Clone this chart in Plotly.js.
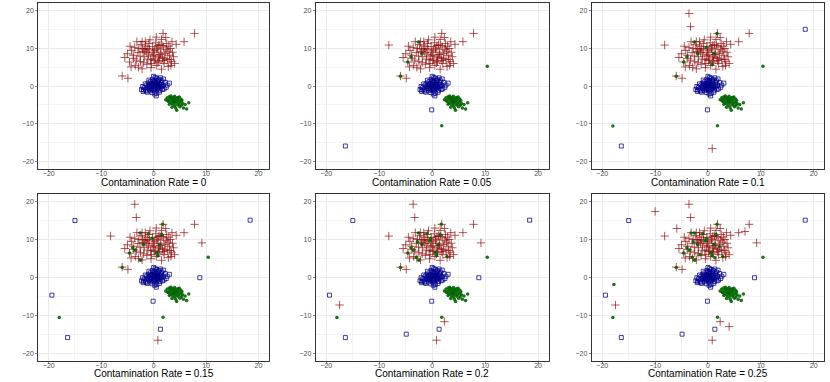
<!DOCTYPE html>
<html>
<head>
<meta charset="utf-8">
<script src="https://cdn.plot.ly/plotly-3.0.1.min.js"></script>
<style>
  html, body { margin: 0; padding: 0; background: #fff; }
  #chart { width: 830px; height: 382px; }
</style>
</head>
<body>
<div id="chart"></div>
<script>
// base clusters, shared by every panel
const redX = [-4.5, -3.2, -2.2, -1.6, 0.5, 1.8, 2.3, 4.3, 5.8, 7.8, -6.0, -4.9,
  -5.0, -4.2, -3.8, -3.5, -4.3, -3.0, -2.8, -2.5, -2.2, -2.0, -1.8, -1.5, -1.3, -1.0, -0.8, -0.6, -0.4, -0.2,
  0.0, 0.2, 0.3, 0.5, 0.7, 0.9, 1.0, 1.2, 1.4, 1.5, 1.7, 1.9, 2.0, 2.2, 2.4, 2.6, 2.8, 3.0, 3.2, 3.4, 3.6, 3.8,
  -5.5, -3.3, -2.6, -1.9, -1.2, -0.9, -0.1, 0.4, 0.8, 1.3, 1.6, 2.1, 2.7, 3.3, -2.4, -3.9, -4.6, -1.4, -0.3,
  0.6, 1.1, 2.5, -2.9, -1.7, -0.5, 0.1, 1.8, 3.1, -3.6, 2.9, -1.1, 0.9, -2.1, 4.0, 3.5, -0.7, 1.5];
const redY = [10.6, 11.8, 11.8, 11.8, 13.0, 14.0, 12.9, 11.1, 11.8, 14.0, 2.7, 2.1,
  8.6, 9.5, 7.4, 5.5, 5.1, 8.9, 10.0, 6.5, 4.6, 9.2, 7.8, 10.6, 5.8, 8.5, 9.8, 7.0, 6.0, 10.5,
  8.3, 9.4, 7.2, 5.5, 10.1, 8.0, 6.6, 11.0, 9.0, 4.5, 7.5, 10.4, 6.0, 8.7, 9.8, 7.0, 5.2, 8.2, 10.0, 6.5, 9.0, 7.8,
  7.6, 6.9, 8.0, 6.2, 10.0, 11.3, 9.0, 11.5, 6.2, 8.4, 10.8, 7.3, 9.3, 5.5, 11.0, 8.2, 6.4, 8.9, 8.0,
  9.8, 7.7, 11.3, 5.0, 9.6, 4.9, 6.8, 6.8, 7.1, 10.3, 10.6, 7.2, 10.8, 9.9, 6.0, 11.8, 12.3, 12.4];

const blueX = [-2.3, -2.0, -1.8, -1.5, -1.3, -1.2, -1.0, -0.9, -0.8, -0.7, -0.6, -0.5, -0.4, -0.3, -0.2, -0.1,
  0.0, 0.0, 0.1, 0.2, 0.2, 0.3, 0.4, 0.5, 0.5, 0.6, 0.7, 0.8, 0.9, 1.0, 1.0, 1.1, 1.2, 1.3, 1.4, 1.5, 1.6, 1.8,
  2.0, 2.2, 2.6, 3.0, -1.6, -0.9, -0.3, 0.3, 0.7, 1.1, -2.1, -1.1, 0.4, 0.9, 1.7, -0.6, 0.1, 0.6, -0.2, 1.3,
  0.8, -0.4, 0.0, 0.3, 1.9, -1.4, 0.2, 0.6, -0.7, 1.5, 2.4, -1.9];
const blueY = [-0.9, -1.4, -0.4, -1.0, 0.3, -1.6, 0.8, -0.6, 0.1, -1.2, 1.2, -0.3, 0.5, -0.9, 1.8, 0.0,
  -0.5, 2.6, 0.9, -1.3, 0.3, 1.5, -0.2, 0.6, -2.6, 2.1, -0.8, 1.1, 0.0, -0.4, 1.8, 0.4, -1.1, 2.2, 0.9, -0.2, 1.4, 0.2,
  -0.7, 1.0, 0.3, 0.8, 0.6, 1.6, -1.7, -0.6, 0.2, -1.6, -0.1, -0.2, 1.0, 1.5, -0.9, -0.1, -0.9, 0.4, 0.7, 0.0,
  -0.3, -0.6, 1.3, 2.3, 1.9, -1.3, -2.1, -1.9, 0.4, 0.5, -0.3, -1.0];

const greenX = [2.3, 2.6, 2.8, 3.0, 3.1, 3.2, 3.3, 3.4, 3.5, 3.6, 3.7, 3.8, 3.9, 4.0, 4.0, 4.1, 4.2, 4.3, 4.4, 4.5,
  4.6, 4.7, 4.8, 4.9, 5.0, 5.1, 5.2, 5.3, 5.5, 5.7, 6.0, 6.3, 6.7, 3.5, 4.2, 3.0, 2.7, 4.6, 5.4, 3.9];
const greenY = [-3.6, -3.1, -4.0, -2.8, -3.5, -4.4, -2.6, -3.2, -3.9, -4.8, -3.0, -4.1, -3.5, -5.2, -2.7, -3.8, -4.5, -3.2, -6.4, -4.0,
  -5.0, -3.6, -4.6, -2.9, -5.5, -4.2, -3.4, -5.1, -4.6, -5.8, -4.9, -6.1, -4.4, -5.6, -5.8, -4.8, -3.9, -3.0, -3.8, -4.3];

// contaminated points added at each rate (cumulative)
const rates = ["0", "0.05", "0.1", "0.15", "0.2", "0.25"];
const extraRedX = [[], [-8.2], [-3.6, -3.3, 0.8], [9.2], [-17.5, 2.3], [-10.0, -5.9, 7.0, 4.0]];
const extraRedY = [[], [10.9], [19.3, 15.8, -16.6], [9.1], [-7.3, -11.7], [17.4, 12.9, 12.1, -13.0]];
const extraBlueX = [[], [-16.4, -0.1], [18.4], [-15.0, -19.4, 8.8, 1.3], [-4.9], []];
const extraBlueY = [[], [-15.9, -6.3], [15.1], [15.0, -4.7, -0.1, -13.7], [-15.0], []];
const extraGreenX = [[], [-6.0, -4.6, -2.6, -2.0, -4.0, 10.4, 1.8], [-18.0, 1.7, -0.3, 1.1, 0.8],
  [-1.0, -2.5, 1.5, 0.6, -3.5], [-0.5, 2.8, -3.0, -2.8], [-17.8, -3.2, 2.2, 1.3, -1.5]];
const extraGreenY = [[], [2.6, 6.4, 11.7, 8.7, 7.8, 5.3, -10.5], [-10.6, 14.0, 10.3, 8.7, 5.8],
  [11.5, 4.5, 11.3, 6.6, 7.2], [9.6, 5.5, 5.3, 9.4], [-1.9, 11.7, 8.1, 5.2, 6.0]];

const colDomains = [[0.0461, 0.3241], [0.3804, 0.6611], [0.7129, 0.9931]];
const rowDomains = [[0.5576, 0.9914], [0.0558, 0.4921]];
const titleY = [0.521, 0.0215];

const traces = [];
const layout = {
  width: 830,
  height: 382,
  margin: { l: 0, r: 0, t: 0, b: 0 },
  paper_bgcolor: "#ffffff",
  plot_bgcolor: "#ffffff",
  showlegend: false,
  hovermode: false,
  font: { family: "Liberation Sans, Arial, sans-serif", color: "#000" },
  annotations: [],
};

function axisStyle(domain, anchor, standoff) {
  return {
    domain,
    anchor,
    range: [-22, 22],
    tick0: 0,
    dtick: 10,
    showgrid: true,
    gridcolor: "#ebebeb",
    gridwidth: 1,
    zeroline: false,
    showline: true,
    mirror: true,
    linecolor: "#333333",
    linewidth: 1,
    ticks: "outside",
    ticklen: 2,
    tickwidth: 0.6,
    tickcolor: "#333333",
    ticklabelstandoff: standoff,
    tickfont: { size: 7, color: "#4d4d4d" },
    minor: { dtick: 5, showgrid: true, gridcolor: "#f4f4f4", gridwidth: 1, ticks: "" },
  };
}

let cumRed = [[...redX], [...redY]];
let cumBlue = [[...blueX], [...blueY]];
let cumGreen = [[...greenX], [...greenY]];

rates.forEach((rate, i) => {
  cumRed = [cumRed[0].concat(extraRedX[i]), cumRed[1].concat(extraRedY[i])];
  cumBlue = [cumBlue[0].concat(extraBlueX[i]), cumBlue[1].concat(extraBlueY[i])];
  cumGreen = [cumGreen[0].concat(extraGreenX[i]), cumGreen[1].concat(extraGreenY[i])];

  const n = i + 1;
  const xa = n === 1 ? "x" : `x${n}`;
  const ya = n === 1 ? "y" : `y${n}`;
  const col = i % 3;
  const row = Math.floor(i / 3);

  layout[n === 1 ? "xaxis" : `xaxis${n}`] = axisStyle(colDomains[col], ya, -4);
  layout[n === 1 ? "yaxis" : `yaxis${n}`] = axisStyle(rowDomains[row], xa, 0);

  traces.push({
    x: cumRed[0], y: cumRed[1], xaxis: xa, yaxis: ya,
    type: "scatter", mode: "markers",
    marker: { symbol: "cross-thin-open", size: 6, color: "rgba(139,0,0,0.65)", line: { width: 1 } },
  });
  traces.push({
    x: cumBlue[0], y: cumBlue[1], xaxis: xa, yaxis: ya,
    type: "scatter", mode: "markers",
    marker: { symbol: "square-open", size: 4, color: "rgba(0,0,139,0.75)", line: { width: 1 } },
  });
  traces.push({
    x: cumGreen[0], y: cumGreen[1], xaxis: xa, yaxis: ya,
    type: "scatter", mode: "markers",
    marker: { symbol: "circle", size: 3.5, color: "rgba(0,100,0,0.9)" },
  });

  layout.annotations.push({
    xref: "paper", yref: "paper",
    x: (colDomains[col][0] + colDomains[col][1]) / 2,
    y: titleY[row],
    xanchor: "center", yanchor: "middle",
    text: `Contamination Rate = ${rate}`,
    showarrow: false,
    font: { size: 10, color: "#000" },
  });
});

Plotly.newPlot("chart", traces, layout, { displayModeBar: false, staticPlot: true });
</script>
</body>
</html>
